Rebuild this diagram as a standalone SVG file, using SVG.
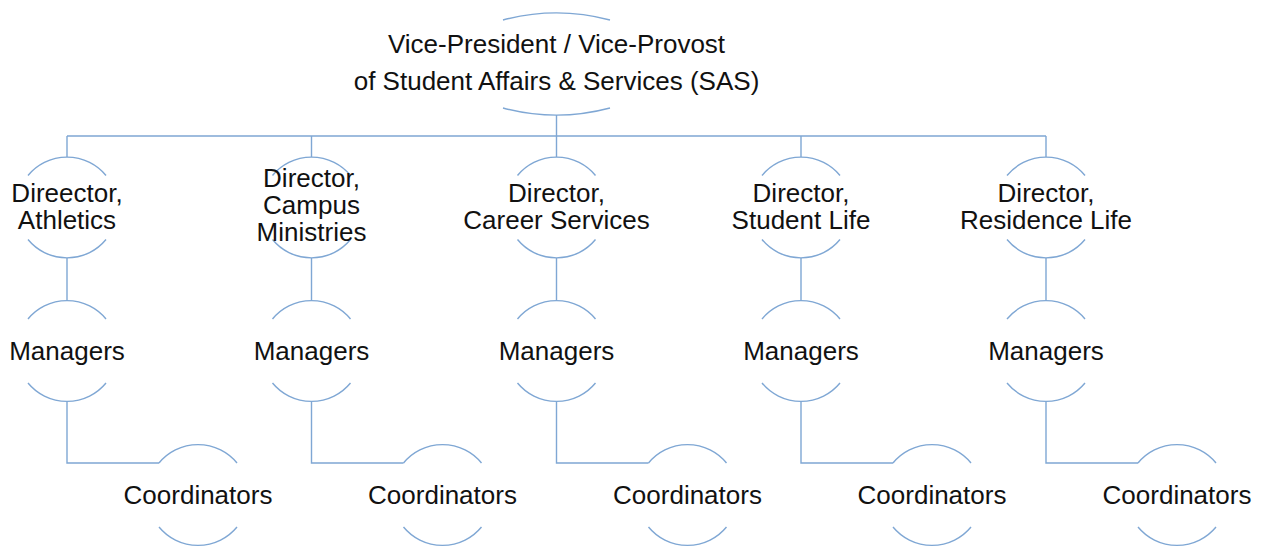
<svg xmlns="http://www.w3.org/2000/svg" width="1267" height="550" viewBox="0 0 1267 550">
<style>
.arc{fill:none;stroke:#7fa7d4;stroke-width:1.4}
.con{fill:none;stroke:#7fa7d4;stroke-width:1.4}
text{font-family:"Liberation Sans",Arial,sans-serif;font-size:26px;fill:#111;text-anchor:middle}
</style>
<rect width="1267" height="550" fill="#fff"/>
<g id="connectors">
<path class="con" d="M556.5,115 V136 M67,136 H1046"/>
<path class="con" d="M67,136 V157 M311.5,136 V157 M556.5,136 V157 M801,136 V157 M1046,136 V157"/>
<path class="con" d="M67,258 V300.5 M311.5,258 V300.5 M556.5,258 V300.5 M801,258 V300.5 M1046,258 V300.5"/>
<path class="con" d="M67,401.5 V463 H159 M311.5,401.5 V463 H403.5 M556.5,401.5 V463 H648.5 M801,401.5 V463 H893 M1046,401.5 V463 H1138"/>
</g>
<g id="vp">
<path class="arc" d="M503,20 A208,208 0 0 1 610,20 M503,108 A208,208 0 0 0 610,108"/>
<text x="556.5" y="53.3">Vice-President / Vice-Provost</text>
<text x="556.5" y="90">of Student Affairs &amp; Services (SAS)</text>
</g>
<g id="dir-athletics">
<path class="arc" d="M28,175.5 A50.5,50.5 0 0 1 106,175.5 M28,239.5 A50.5,50.5 0 0 0 106,239.5"/>
<text x="67" y="201.5">Direector,</text>
<text x="67" y="228.5">Athletics</text>
</g>
<g id="dir-campus">
<path class="arc" d="M272.5,175.5 A50.5,50.5 0 0 1 350.5,175.5 M272.5,239.5 A50.5,50.5 0 0 0 350.5,239.5"/>
<text x="311.5" y="187">Director,</text>
<text x="311.5" y="214">Campus</text>
<text x="311.5" y="241">Ministries</text>
</g>
<g id="dir-career">
<path class="arc" d="M517.5,175.5 A50.5,50.5 0 0 1 595.5,175.5 M517.5,239.5 A50.5,50.5 0 0 0 595.5,239.5"/>
<text x="556.5" y="201.5">Director,</text>
<text x="556.5" y="228.5">Career Services</text>
</g>
<g id="dir-student">
<path class="arc" d="M762,175.5 A50.5,50.5 0 0 1 840,175.5 M762,239.5 A50.5,50.5 0 0 0 840,239.5"/>
<text x="801" y="201.5">Director,</text>
<text x="801" y="228.5">Student Life</text>
</g>
<g id="dir-residence">
<path class="arc" d="M1007,175.5 A50.5,50.5 0 0 1 1085,175.5 M1007,239.5 A50.5,50.5 0 0 0 1085,239.5"/>
<text x="1046" y="201.5">Director,</text>
<text x="1046" y="228.5">Residence Life</text>
</g>
<g id="mgr-1">
<path class="arc" d="M28,319 A50.5,50.5 0 0 1 106,319 M28,383 A50.5,50.5 0 0 0 106,383"/>
<text x="67" y="360">Managers</text>
</g>
<g id="mgr-2">
<path class="arc" d="M272.5,319 A50.5,50.5 0 0 1 350.5,319 M272.5,383 A50.5,50.5 0 0 0 350.5,383"/>
<text x="311.5" y="360">Managers</text>
</g>
<g id="mgr-3">
<path class="arc" d="M517.5,319 A50.5,50.5 0 0 1 595.5,319 M517.5,383 A50.5,50.5 0 0 0 595.5,383"/>
<text x="556.5" y="360">Managers</text>
</g>
<g id="mgr-4">
<path class="arc" d="M762,319 A50.5,50.5 0 0 1 840,319 M762,383 A50.5,50.5 0 0 0 840,383"/>
<text x="801" y="360">Managers</text>
</g>
<g id="mgr-5">
<path class="arc" d="M1007,319 A50.5,50.5 0 0 1 1085,319 M1007,383 A50.5,50.5 0 0 0 1085,383"/>
<text x="1046" y="360">Managers</text>
</g>
<g id="coord-1">
<path class="arc" d="M159,463 A50.5,50.5 0 0 1 237,463 M159,527 A50.5,50.5 0 0 0 237,527"/>
<text x="198" y="504">Coordinators</text>
</g>
<g id="coord-2">
<path class="arc" d="M403.5,463 A50.5,50.5 0 0 1 481.5,463 M403.5,527 A50.5,50.5 0 0 0 481.5,527"/>
<text x="442.5" y="504">Coordinators</text>
</g>
<g id="coord-3">
<path class="arc" d="M648.5,463 A50.5,50.5 0 0 1 726.5,463 M648.5,527 A50.5,50.5 0 0 0 726.5,527"/>
<text x="687.5" y="504">Coordinators</text>
</g>
<g id="coord-4">
<path class="arc" d="M893,463 A50.5,50.5 0 0 1 971,463 M893,527 A50.5,50.5 0 0 0 971,527"/>
<text x="932" y="504">Coordinators</text>
</g>
<g id="coord-5">
<path class="arc" d="M1138,463 A50.5,50.5 0 0 1 1216,463 M1138,527 A50.5,50.5 0 0 0 1216,527"/>
<text x="1177" y="504">Coordinators</text>
</g>
</svg>
